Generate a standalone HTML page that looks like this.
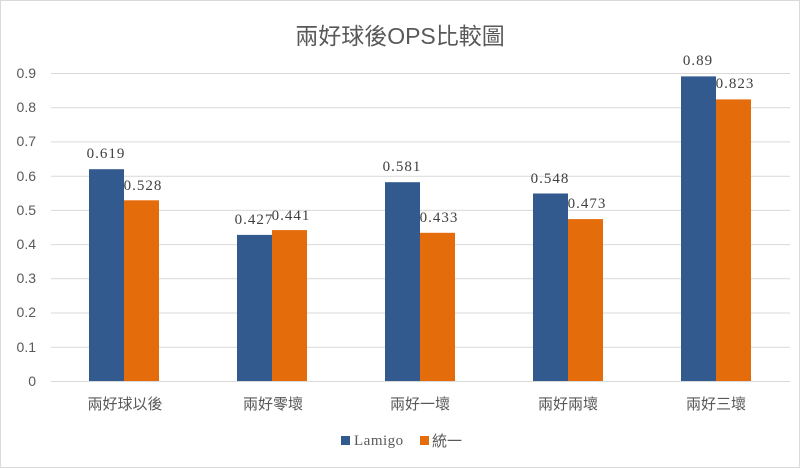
<!DOCTYPE html>
<html><head><style>body{margin:0;background:#fff}svg{display:block}</style></head><body>
<svg width="800" height="468" xmlns="http://www.w3.org/2000/svg" font-family="Liberation Sans, Noto Sans CJK TC, sans-serif">
<rect x="0.5" y="0.5" width="799" height="467" fill="#fff" stroke="#d9d9d9"/>
<text x="400" y="44" font-size="23" fill="#595959" text-anchor="middle">兩好球後OPS比較圖</text>
<g stroke="#d9d9d9" stroke-width="1">
<line x1="51" x2="790" y1="73.5" y2="73.5"/><line x1="51" x2="790" y1="107.7" y2="107.7"/><line x1="51" x2="790" y1="141.9" y2="141.9"/><line x1="51" x2="790" y1="176.2" y2="176.2"/><line x1="51" x2="790" y1="210.4" y2="210.4"/><line x1="51" x2="790" y1="244.6" y2="244.6"/><line x1="51" x2="790" y1="278.8" y2="278.8"/><line x1="51" x2="790" y1="313" y2="313"/><line x1="51" x2="790" y1="347.3" y2="347.3"/><line x1="51" x2="790" y1="381.5" y2="381.5"/>
</g>
<g font-size="14" fill="#595959" text-anchor="end">
<text x="36" y="78">0.9</text><text x="36" y="112">0.8</text><text x="36" y="146">0.7</text><text x="36" y="181">0.6</text><text x="36" y="215">0.5</text><text x="36" y="249">0.4</text><text x="36" y="283">0.3</text><text x="36" y="317">0.2</text><text x="36" y="352">0.1</text><text x="36" y="386">0</text>
</g>
<g>
<rect x="89" y="169.2" width="35" height="211.8" fill="#335a8e"/><rect x="124" y="200.3" width="35" height="180.7" fill="#e46c0a"/>
<rect x="237" y="234.9" width="35" height="146.1" fill="#335a8e"/><rect x="272" y="230.1" width="35" height="150.9" fill="#e46c0a"/>
<rect x="385" y="182.2" width="35" height="198.8" fill="#335a8e"/><rect x="420" y="232.8" width="35" height="148.2" fill="#e46c0a"/>
<rect x="533" y="193.5" width="35" height="187.5" fill="#335a8e"/><rect x="568" y="219.1" width="35" height="161.9" fill="#e46c0a"/>
<rect x="681" y="76.4" width="35" height="304.6" fill="#335a8e"/><rect x="716" y="99.4" width="35" height="281.6" fill="#e46c0a"/>
</g>
<g font-size="15" fill="#404040" text-anchor="middle" font-family="Liberation Serif, serif" letter-spacing="1">
<text x="106" y="158">0.619</text><text x="143" y="190">0.528</text>
<text x="254" y="224">0.427</text><text x="291" y="220">0.441</text>
<text x="402" y="171">0.581</text><text x="439" y="222">0.433</text>
<text x="550" y="183">0.548</text><text x="587" y="208">0.473</text>
<text x="698" y="65">0.89</text><text x="735" y="88">0.823</text>
</g>
<g font-size="15" fill="#595959" text-anchor="middle">
<text x="125" y="409">兩好球以後</text><text x="273" y="409">兩好零壞</text><text x="420" y="409">兩好一壞</text><text x="568" y="409">兩好兩壞</text><text x="716" y="409">兩好三壞</text>
</g>
<rect x="341" y="436" width="9" height="9" fill="#335a8e"/>
<text x="354" y="445" font-size="15" fill="#595959" font-family="Liberation Serif, serif" letter-spacing="0.5">Lamigo</text>
<rect x="420" y="436" width="9" height="9" fill="#e46c0a"/>
<text x="432" y="446" font-size="15" fill="#595959">統一</text>
</svg>
</body></html>
